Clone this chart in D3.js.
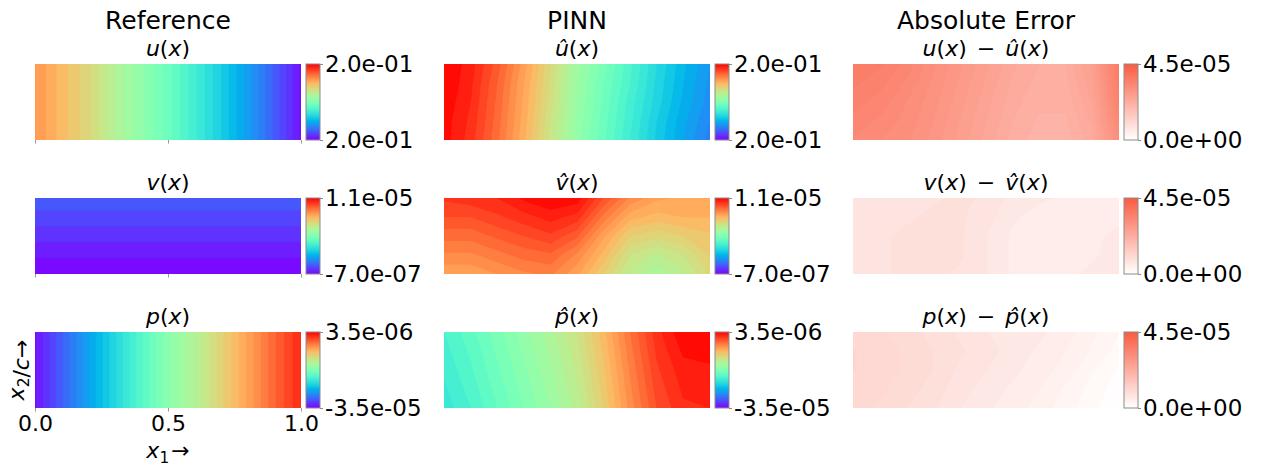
<!DOCTYPE html>
<html><head><meta charset="utf-8">
<script src="https://cdn.jsdelivr.net/npm/d3@7"></script>
<style>
body{margin:0;background:#fff}
text{font-family:"DejaVu Sans",sans-serif;fill:#000}
</style>
</head><body>
<svg id="chart" width="1261" height="470"></svg>
<script>
// ---------- data (grid: columns x1 = 0,0.1,...,1 ; rows from top x2=c down to x2=0) ----------
const x1Grid = [0,0.1,0.2,0.3,0.4,0.5,0.6,0.7,0.8,0.9,1.0];
const xTicks = [0.0,0.5,1.0];
const xTickLabels = ["0.0","0.5","1.0"];
const colTitles = ["Reference","PINN","Absolute Error"];

const uRef = [
 [0.200048,0.200038,0.200029,0.200016,0.200005,0.199994,0.199981,0.199968,0.199954,0.199939,0.199923],
 [0.200048,0.200038,0.200029,0.200016,0.200005,0.199994,0.199981,0.199968,0.199954,0.199939,0.199923],
 [0.200048,0.200038,0.200029,0.200016,0.200005,0.199994,0.199981,0.199968,0.199954,0.199939,0.199923],
 [0.200048,0.200038,0.200029,0.200016,0.200005,0.199994,0.199981,0.199968,0.199954,0.199939,0.199923],
 [0.200048,0.200038,0.200029,0.200016,0.200005,0.199994,0.199981,0.199968,0.199954,0.199939,0.199923]
];
const uPinn = [
 [0.200080,0.200074,0.200062,0.200046,0.200028,0.200010,0.199998,0.199985,0.199972,0.199961,0.199952],
 [0.200080,0.200073,0.200060,0.200044,0.200027,0.200009,0.199996,0.199984,0.199971,0.199960,0.199951],
 [0.200079,0.200072,0.200059,0.200043,0.200026,0.200008,0.199995,0.199982,0.199970,0.199959,0.199950],
 [0.200078,0.200071,0.200058,0.200042,0.200024,0.200007,0.199994,0.199981,0.199968,0.199957,0.199948],
 [0.200078,0.200070,0.200057,0.200041,0.200023,0.200006,0.199993,0.199980,0.199967,0.199956,0.199946]
];
const vRef = [
 [7.0e-7,7.0e-7,7.0e-7,7.0e-7,7.0e-7,7.0e-7,7.0e-7,7.0e-7,7.0e-7,7.0e-7,7.0e-7],
 [3.5e-7,3.5e-7,3.5e-7,3.5e-7,3.5e-7,3.5e-7,3.5e-7,3.5e-7,3.5e-7,3.5e-7,3.5e-7],
 [0.0,0.0,0.0,0.0,0.0,0.0,0.0,0.0,0.0,0.0,0.0],
 [-3.5e-7,-3.5e-7,-3.5e-7,-3.5e-7,-3.5e-7,-3.5e-7,-3.5e-7,-3.5e-7,-3.5e-7,-3.5e-7,-3.5e-7],
 [-7.0e-7,-7.0e-7,-7.0e-7,-7.0e-7,-7.0e-7,-7.0e-7,-7.0e-7,-7.0e-7,-7.0e-7,-7.0e-7,-7.0e-7]
];
const vPinn = [
 [10.18e-6,10.30e-6,10.42e-6,10.77e-6,11.00e-6,10.88e-6,9.83e-6,8.89e-6,8.43e-6,8.31e-6,8.31e-6],
 [9.83e-6,9.83e-6,10.06e-6,10.30e-6,10.53e-6,10.30e-6,9.13e-6,8.19e-6,7.96e-6,8.08e-6,8.08e-6],
 [9.36e-6,9.36e-6,9.60e-6,9.83e-6,10.06e-6,9.60e-6,8.43e-6,7.49e-6,7.26e-6,7.49e-6,7.72e-6],
 [8.89e-6,8.89e-6,9.13e-6,9.36e-6,9.48e-6,8.89e-6,7.96e-6,6.91e-6,6.55e-6,6.91e-6,7.49e-6],
 [8.43e-6,8.43e-6,8.66e-6,8.89e-6,9.01e-6,8.43e-6,7.49e-6,6.55e-6,6.09e-6,6.55e-6,7.26e-6]
];
const pRef = [
 [-34.23e-6,-30.38e-6,-26.53e-6,-22.68e-6,-18.83e-6,-14.98e-6,-11.90e-6,-8.43e-6,-4.97e-6,-1.50e-6,1.58e-6],
 [-34.23e-6,-30.38e-6,-26.53e-6,-22.68e-6,-18.83e-6,-14.98e-6,-11.90e-6,-8.43e-6,-4.97e-6,-1.50e-6,1.58e-6],
 [-34.23e-6,-30.38e-6,-26.53e-6,-22.68e-6,-18.83e-6,-14.98e-6,-11.90e-6,-8.43e-6,-4.97e-6,-1.50e-6,1.58e-6],
 [-34.23e-6,-30.38e-6,-26.53e-6,-22.68e-6,-18.83e-6,-14.98e-6,-11.90e-6,-8.43e-6,-4.97e-6,-1.50e-6,1.58e-6],
 [-34.23e-6,-30.38e-6,-26.53e-6,-22.68e-6,-18.83e-6,-14.98e-6,-11.90e-6,-8.43e-6,-4.97e-6,-1.50e-6,1.58e-6]
];
const pPinn = [
 [-19.60e-6,-18.06e-6,-16.14e-6,-14.21e-6,-12.29e-6,-9.98e-6,-6.51e-6,-2.28e-6,1.19e-6,3.31e-6,3.50e-6],
 [-19.99e-6,-18.45e-6,-16.52e-6,-14.60e-6,-12.67e-6,-10.36e-6,-6.90e-6,-2.66e-6,0.80e-6,2.73e-6,2.92e-6],
 [-20.37e-6,-18.83e-6,-16.90e-6,-14.98e-6,-13.06e-6,-10.75e-6,-7.28e-6,-3.05e-6,0.42e-6,2.15e-6,2.35e-6],
 [-20.76e-6,-19.22e-6,-17.29e-6,-15.37e-6,-13.44e-6,-11.13e-6,-7.67e-6,-3.43e-6,0.04e-6,1.77e-6,1.96e-6],
 [-21.14e-6,-19.60e-6,-17.68e-6,-15.75e-6,-13.83e-6,-11.52e-6,-8.05e-6,-3.82e-6,-0.35e-6,1.38e-6,1.58e-6]
];
const uErr = [
 [3.60e-5,3.51e-5,3.33e-5,3.06e-5,2.84e-5,2.61e-5,2.39e-5,2.25e-5,2.25e-5,2.61e-5,3.60e-5],
 [3.51e-5,3.42e-5,3.24e-5,3.02e-5,2.79e-5,2.57e-5,2.34e-5,2.21e-5,2.21e-5,2.57e-5,3.51e-5],
 [3.42e-5,3.33e-5,3.15e-5,2.97e-5,2.75e-5,2.52e-5,2.30e-5,2.16e-5,2.16e-5,2.48e-5,3.42e-5],
 [3.33e-5,3.24e-5,3.11e-5,2.93e-5,2.70e-5,2.48e-5,2.25e-5,2.12e-5,2.12e-5,2.39e-5,3.24e-5],
 [3.24e-5,3.15e-5,3.06e-5,2.88e-5,2.66e-5,2.43e-5,2.21e-5,2.07e-5,2.07e-5,2.30e-5,3.06e-5]
];
const vErr = [
 [0.68e-5,0.72e-5,0.72e-5,0.77e-5,0.81e-5,0.77e-5,0.63e-5,0.59e-5,0.54e-5,0.54e-5,0.54e-5],
 [0.68e-5,0.72e-5,0.77e-5,0.81e-5,0.81e-5,0.72e-5,0.59e-5,0.50e-5,0.50e-5,0.54e-5,0.54e-5],
 [0.72e-5,0.77e-5,0.81e-5,0.86e-5,0.81e-5,0.68e-5,0.54e-5,0.45e-5,0.50e-5,0.54e-5,0.59e-5],
 [0.72e-5,0.77e-5,0.81e-5,0.86e-5,0.81e-5,0.68e-5,0.54e-5,0.45e-5,0.50e-5,0.54e-5,0.63e-5],
 [0.72e-5,0.77e-5,0.81e-5,0.81e-5,0.77e-5,0.68e-5,0.54e-5,0.50e-5,0.54e-5,0.59e-5,0.68e-5]
];
const pErr = [
 [1.08e-5,1.04e-5,0.95e-5,0.86e-5,0.77e-5,0.68e-5,0.63e-5,0.59e-5,0.50e-5,0.36e-5,0.23e-5],
 [1.13e-5,1.08e-5,0.99e-5,0.90e-5,0.81e-5,0.72e-5,0.63e-5,0.54e-5,0.45e-5,0.32e-5,0.18e-5],
 [1.13e-5,1.08e-5,0.99e-5,0.90e-5,0.77e-5,0.68e-5,0.59e-5,0.50e-5,0.41e-5,0.23e-5,0.09e-5],
 [1.08e-5,1.04e-5,0.95e-5,0.86e-5,0.72e-5,0.63e-5,0.54e-5,0.45e-5,0.32e-5,0.18e-5,0.05e-5],
 [1.04e-5,0.99e-5,0.90e-5,0.81e-5,0.68e-5,0.59e-5,0.50e-5,0.41e-5,0.27e-5,0.14e-5,0.00e-5]
];
const uDomain = [0.19992,0.20008];
const vDomain = [-7.0e-7,1.1e-5];
const pDomain = [-3.5e-5,3.5e-6];
const errDomain = [0,4.5e-5];

// ---------- layout ----------
const svg = d3.select("#chart");
const colX = [35,444,853], rowY = [64,198,332];
const W = 266, H = 76, cbGap = 5, cbW = 14;
const FS = 22, FS_TITLE = 25, FS_CB = 23;

function rainbow(t){
  t = Math.max(0,Math.min(1,t));
  const r = Math.min(1,Math.abs(2*t-0.5)), g = Math.sin(Math.PI*t), b = Math.cos(Math.PI*t/2);
  return d3.rgb(r*255,g*255,b*255).formatHex();
}
const reds = d3.interpolateRgb("#ffffff","#fa5b40");

function sci(v){
  if (v===0) return "0.0e+00";
  let e = Math.floor(Math.log10(Math.abs(v)));
  let m = v/Math.pow(10,e);
  if (Math.abs(+m.toFixed(1))>=10){ e+=1; m=v/Math.pow(10,e); }
  const sign = e<0?"-":"+";
  return m.toFixed(1)+"e"+sign+String(Math.abs(e)).padStart(2,"0");
}

// segment: [text, style, dy, dx]
function mathText(sel, segs){
  segs.forEach(s=>{
    const t = sel.append("tspan").text(s[0]);
    if (s[1]==="i") t.attr("font-style","italic");
    if (s[1]==="s") t.attr("font-size",FS*0.7).attr("dy",5);
    if (s[2]) t.attr("dy",s[2]);
    if (s[3]) t.attr("dx",s[3]);
  });
}
const MINUS = [["\u2212","",0,8]];
function errLab(a,b){
  return [[a,"i"],["(",""],["x","i"],[")",""],["\u2212","",0,10],[b,"i",0,10],["(",""],["x","i"],[")",""]];
}

const panels = [
 {c:0,r:0,data:uRef,dom:uDomain,cm:rainbow,lab:[["u","i"],["(",""],["x","i"],[")",""]]},
 {c:0,r:1,data:vRef,dom:vDomain,cm:rainbow,lab:[["v","i"],["(",""],["x","i"],[")",""]]},
 {c:0,r:2,data:pRef,dom:pDomain,cm:rainbow,lab:[["p","i"],["(",""],["x","i"],[")",""]]},
 {c:1,r:0,data:uPinn,dom:uDomain,cm:rainbow,lab:[["\u00fb","i"],["(",""],["x","i"],[")",""]]},
 {c:1,r:1,data:vPinn,dom:vDomain,cm:rainbow,lab:[["v\u0302","i"],["(",""],["x","i"],[")",""]]},
 {c:1,r:2,data:pPinn,dom:pDomain,cm:rainbow,lab:[["p\u0302","i"],["(",""],["x","i"],[")",""]]},
 {c:2,r:0,data:uErr,dom:errDomain,cm:reds,lab:errLab("u","\u00fb")},
 {c:2,r:1,data:vErr,dom:errDomain,cm:reds,lab:errLab("v","v\u0302")},
 {c:2,r:2,data:pErr,dom:errDomain,cm:reds,lab:errLab("p","p\u0302")}
];

const defs = svg.append("defs");
const nLev = 40;

panels.forEach((P,k)=>{
  const x0 = colX[P.c], y0 = rowY[P.r];
  const ny = P.data.length, nx = P.data[0].length;
  const vals = P.data.flat();
  const step = (P.dom[1]-P.dom[0])/nLev;
  const thr = d3.range(nLev).map(i=>P.dom[0]+i*step);
  thr[0] = Math.min(thr[0], d3.min(vals));
  const xs = d3.scaleLinear().domain([0.5,nx-0.5]).range([x0,x0+W]);
  const ys = d3.scaleLinear().domain([0.5,ny-0.5]).range([y0,y0+H]);
  const path = d3.geoPath(d3.geoTransform({point(x,y){this.stream.point(xs(x),ys(y));}}));
  const cs = d3.contours().size([nx,ny]).thresholds(thr)(vals);
  defs.append("clipPath").attr("id","clip"+k).append("rect").attr("x",x0).attr("y",y0).attr("width",W).attr("height",H);
  const norm = d3.scaleLinear().domain(P.dom).range([0,1]);
  svg.append("g").attr("clip-path",`url(#clip${k})`)
    .selectAll("path").data(cs).join("path")
    .attr("d",path)
    .attr("fill",d=>P.cm(norm(d.value+step/2)))
    .attr("stroke",d=>P.cm(norm(d.value+step/2))).attr("stroke-width",0.3);

  // colorbar
  const gid = "grad"+k;
  const grad = defs.append("linearGradient").attr("id",gid).attr("x1",0).attr("y1",1).attr("x2",0).attr("y2",0);
  d3.range(0,1.0001,0.05).forEach(t=>grad.append("stop").attr("offset",t).attr("stop-color",P.cm(t)));
  const cbx = x0+W+cbGap;
  const cbScale = d3.scaleLinear().domain(P.dom).range([y0+H,y0]);
  svg.append("rect").attr("x",cbx).attr("y",y0).attr("width",cbW).attr("height",H)
    .attr("fill",`url(#${gid})`).attr("stroke","#8c8c8c").attr("stroke-width",1);
  const cbAxis = d3.axisRight(cbScale).tickValues(P.dom).tickFormat(sci).tickSize(3).tickPadding(2);
  const ga = svg.append("g").attr("transform",`translate(${cbx+cbW},0)`).call(cbAxis);
  ga.select(".domain").remove();
  ga.selectAll(".tick line").attr("stroke","#8c8c8c");
  ga.selectAll(".tick text").attr("font-size",FS_CB).attr("font-family","DejaVu Sans").attr("fill","#000");

  // panel subtitle
  const t = svg.append("text").attr("x",x0+W/2).attr("y",y0-8).attr("text-anchor","middle").attr("font-size",FS);
  mathText(t,P.lab);

  // x ticks on first column
  if (P.c===0){
    const xsc = d3.scaleLinear().domain([0,1]).range([x0,x0+W]);
    const ax = d3.axisBottom(xsc).tickValues(xTicks).tickSize(3.5).tickPadding(4)
      .tickFormat((d,i)=> P.r===2 ? xTickLabels[i] : "");
    const gx = svg.append("g").attr("transform",`translate(0,${y0+H})`).call(ax);
    gx.select(".domain").remove();
    gx.selectAll(".tick line").attr("stroke","#9a9a9a");
    gx.selectAll(".tick text").attr("font-size",FS).attr("font-family","DejaVu Sans").attr("fill","#000");
  }
});

// column titles
colTitles.forEach((s,i)=>{
  svg.append("text").attr("x",colX[i]+W/2).attr("y",29).attr("text-anchor","middle").attr("font-size",FS_TITLE).text(s);
});

// axis labels
const xl = svg.append("text").attr("x",colX[0]+W/2).attr("y",458).attr("text-anchor","middle").attr("font-size",FS);
mathText(xl,[["x","i"],["1","s"],["\u2192","",-5,2]]);
const yl = svg.append("text").attr("transform",`translate(24,${rowY[2]+H/2}) rotate(-90)`).attr("text-anchor","middle").attr("font-size",FS);
mathText(yl,[["x","i"],["2","s"],["/",""," -5"],["c","i"],["\u2192",""]]);
</script>
</body></html>
